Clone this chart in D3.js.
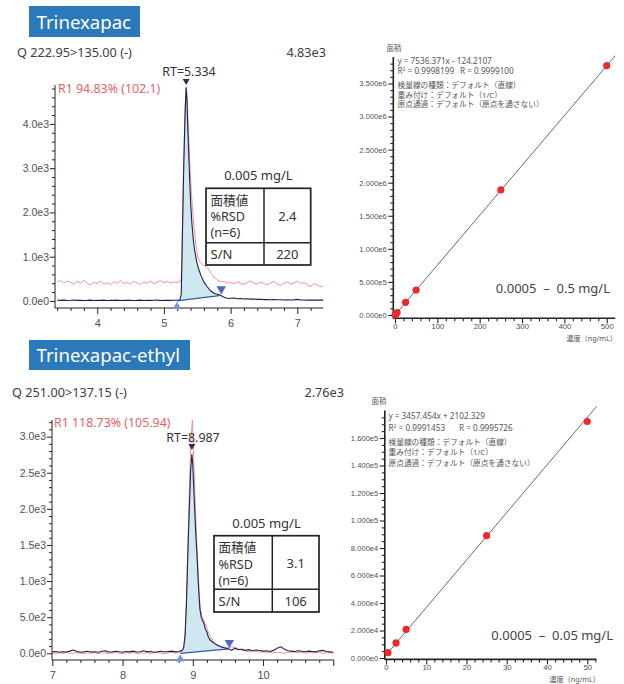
<!DOCTYPE html>
<html><head><meta charset="utf-8">
<script src="https://cdn.jsdelivr.net/npm/d3@7"></script>
<style>
html,body{margin:0;padding:0;background:#fff;}
svg{display:block;font-family:"Noto Sans","Noto Sans CJK JP",sans-serif;}
</style></head><body>
<svg id="chart" width="624" height="684"></svg>
<script>
// ---------- DATA ----------
const titles = ["Trinexapac", "Trinexapac-ethyl"];
const transitions = ["Q 222.95>135.00 (-)", "Q 251.00>137.15 (-)"];
const maxLabels = ["4.83e3", "2.76e3"];
const ratioLabels = ["R1 94.83% (102.1)", "R1 118.73% (105.94)"];
const rtValues = [5.334, 8.987];
const concLabels = ["0.005 mg/L", "0.005 mg/L"];
const rsdValues = ["2.4", "3.1"];
const snValues = ["220", "106"];

// chromatogram 1 (time [min], intensity)
const chrom1Black = [[3.40,15],[3.45,12],[3.50,18],[3.55,10],[3.60,14],[3.65,20],[3.70,12],[3.75,16],[3.80,11],[3.85,13],[3.90,18],[3.95,9],[4.00,14],[4.05,12],[4.10,17],[4.15,10],[4.20,15],[4.25,13],[4.30,19],[4.35,11],[4.40,14],[4.45,12],[4.50,16],[4.55,10],[4.60,13],[4.65,17],[4.70,11],[4.75,15],[4.80,12],[4.85,14],[4.90,18],[4.95,10],[5.00,13],[5.05,15],[5.10,12],[5.15,14],[5.20,16],[5.24,25],
 [5.26,150],[5.27,900],[5.28,1700],[5.29,2500],[5.30,3200],[5.31,3800],[5.32,4350],[5.334,4830],[5.345,4550],[5.355,4050],[5.37,3400],[5.385,2800],[5.40,2250],[5.42,1750],[5.44,1400],[5.46,1150],[5.49,900],[5.52,720],[5.56,560],[5.60,430],[5.65,320],[5.70,230],[5.75,175],[5.80,150],[5.85,130],[5.88,100],[5.92,70],[5.96,55],[6.00,60],
 [6.05,65],[6.10,50],[6.15,55],[6.20,45],[6.25,50],[6.30,40],[6.35,45],[6.40,35],[6.45,38],[6.50,30],[6.55,33],[6.60,28],[6.65,30],[6.70,25],[6.75,28],[6.80,22],[6.85,26],[6.90,20],[6.95,24],[7.00,35],[7.05,20],[7.10,22],[7.15,18],[7.20,20],[7.25,17],[7.30,22],[7.35,19],[7.39,18]];
const chrom1Red = [[3.40,430],[3.45,460],[3.50,400],[3.55,450],[3.60,420],[3.65,380],[3.70,440],[3.75,410],[3.80,470],[3.85,400],[3.90,360],[3.95,420],[4.00,390],[4.05,450],[4.10,380],[4.15,410],[4.20,370],[4.25,430],[4.30,400],[4.35,460],[4.40,390],[4.45,420],[4.50,380],[4.55,440],[4.60,410],[4.65,370],[4.70,430],[4.75,400],[4.80,450],[4.85,390],[4.90,420],[4.95,460],[5.00,410],[5.05,440],[5.10,400],[5.15,430],[5.20,410],[5.24,440],
 [5.26,500],[5.27,1000],[5.28,1800],[5.29,2600],[5.30,3300],[5.31,3900],[5.32,4400],[5.335,4800],[5.35,4550],[5.36,4150],[5.375,3600],[5.39,3050],[5.41,2500],[5.43,2050],[5.45,1700],[5.48,1250],[5.51,980],[5.55,860],[5.60,800],[5.65,760],[5.70,640],[5.75,540],[5.80,470],[5.85,430],[5.90,440],[5.95,400],[6.00,420],
 [6.05,390],[6.10,430],[6.15,400],[6.20,370],[6.25,420],[6.30,450],[6.35,400],[6.40,380],[6.45,430],[6.50,390],[6.55,360],[6.60,410],[6.65,440],[6.70,380],[6.75,350],[6.80,400],[6.85,430],[6.90,380],[6.95,410],[7.00,450],[7.05,390],[7.10,420],[7.15,370],[7.20,330],[7.25,390],[7.30,360],[7.35,320],[7.39,340]];
const chrom1Baseline = [[5.195,0],[5.86,125]];

// chromatogram 2
const chrom2Black = [[7.00,20],[7.05,25],[7.10,15],[7.15,22],[7.20,18],[7.25,30],[7.30,45],[7.35,25],[7.40,15],[7.45,20],[7.50,28],[7.55,18],[7.60,22],[7.65,15],[7.70,25],[7.75,35],[7.80,20],[7.85,18],[7.90,28],[7.95,22],[8.00,15],[8.05,25],[8.10,20],[8.15,30],[8.20,18],[8.25,22],[8.30,35],[8.35,20],[8.40,25],[8.45,15],[8.50,22],[8.55,28],[8.60,18],[8.65,25],[8.70,30],[8.75,20],[8.80,25],[8.85,40],
 [8.87,80],[8.89,250],[8.91,700],[8.93,1400],[8.95,2000],[8.97,2550],[8.987,2760],[9.00,2600],[9.02,2150],[9.04,1700],[9.06,1350],[9.08,950],[9.10,620],[9.12,500],[9.14,450],[9.16,410],[9.18,330],[9.20,300],[9.22,230],[9.25,180],[9.30,140],[9.35,110],[9.40,90],[9.45,75],[9.50,65],[9.55,40],[9.60,70],[9.65,50],
 [9.70,55],[9.75,40],[9.80,50],[9.85,35],[9.90,45],[9.95,38],[10.00,30],[10.05,35],[10.10,25],[10.15,40],[10.20,70],[10.25,90],[10.30,60],[10.35,35],[10.40,30],[10.45,25],[10.50,35],[10.55,28],[10.60,22],[10.65,30],[10.70,25],[10.75,20],[10.80,35],[10.85,40],[10.90,25],[10.95,20],[11.00,15]];
const chrom2Red = [[7.00,5],[7.05,-5],[7.10,8],[7.15,0],[7.20,10],[7.25,-3],[7.30,5],[7.35,12],[7.40,0],[7.45,-8],[7.50,6],[7.55,0],[7.60,10],[7.65,-5],[7.70,3],[7.75,8],[7.80,-2],[7.85,5],[7.90,12],[7.95,0],[8.00,-6],[8.05,8],[8.10,2],[8.15,10],[8.20,-4],[8.25,5],[8.30,0],[8.35,9],[8.40,-3],[8.45,6],[8.50,12],[8.55,2],[8.60,-5],[8.65,8],[8.70,15],[8.75,5],[8.80,10],[8.85,30],
 [8.87,70],[8.89,240],[8.91,720],[8.93,1500],[8.95,2200],[8.97,2900],[8.994,3230],[9.01,2800],[9.03,2200],[9.05,1700],[9.07,1250],[9.09,850],[9.11,600],[9.13,520],[9.15,470],[9.17,420],[9.19,380],[9.21,320],[9.24,250],[9.28,180],[9.33,130],[9.38,100],[9.43,85],[9.48,70],[9.55,90],[9.60,80],[9.65,60],
 [9.70,45],[9.75,30],[9.80,20],[9.85,35],[9.90,25],[9.95,15],[10.00,20],[10.05,10],[10.10,15],[10.15,5],[10.20,15],[10.25,10],[10.30,0],[10.35,10],[10.40,20],[10.45,15],[10.50,5],[10.55,10],[10.60,0],[10.65,8],[10.70,15],[10.75,5],[10.80,12],[10.85,0],[10.90,8],[10.95,5],[11.00,10]];
const chrom2Baseline = [[8.82,0],[9.52,60]];

// calibration curves
const cal1Conc = [0.5, 1, 2.5, 5, 25, 50, 250, 500];
const cal1Area = [3650, 7420, 18900, 37500, 192000, 378000, 1890000, 3770000];
const cal1Coef = [7536.371, -124.2107];
const cal1Text = ["y = 7536.371x - 124.2107", "0.9998199", "0.9999100"];
const cal2Conc = [0.5, 2.5, 5, 25, 50];
const cal2Area = [3900, 11000, 20800, 89000, 172000];
const cal2Coef = [3457.454, 2102.329];
const cal2Text = ["y = 3457.454x + 2102.329", "0.9991453", "0.9995726"];
const calNotes = ["検量線の種類：デフォルト（直線）", "重み付け：デフォルト（1/C）", "原点通過：デフォルト（原点を通さない）"];
const calRanges = ["0.0005\u00a0\u00a0–\u00a0\u00a00.5 mg/L", "0.0005\u00a0\u00a0–\u00a0\u00a00.05 mg/L"];
const calYLabel = "面積";
const calXLabel = "濃度（ng/mL）";

// ---------- DRAW ----------
const svg = d3.select("#chart");
const fmtE1 = v => d3.format(".1e")(v).replace("+", "");
const fmtE3 = v => d3.format(".3e")(v).replace("+", "");
const GRAY = "#505050";

function titleBox(x, y, w, h, label) {
  svg.append("rect").attr("x", x).attr("y", y).attr("width", w).attr("height", h).attr("fill", "#2b78bb");
  svg.append("text").attr("x", x + 7.5).attr("y", y + h - 8).attr("fill", "#fff")
    .attr("font-size", 18.6).text(label);
}

function tri(g, cx, cy, w, up, color) {
  const h = w * 0.85;
  const pts = up ? [[cx - w/2, cy + h/2], [cx + w/2, cy + h/2], [cx, cy - h/2]]
                 : [[cx - w/2, cy - h/2], [cx + w/2, cy - h/2], [cx, cy + h/2]];
  g.append("path").attr("d", "M" + pts.join("L") + "Z").attr("fill", color);
}

function chrom(o) {
  const g = svg.append("g");
  const x = d3.scaleLinear().domain(o.xDom).range(o.xRange);
  const y = d3.scaleLinear().domain(o.yDom).range(o.yRange);
  const b0 = o.base[0], b1 = o.base[1];
  const bl = t => b0[1] + (b1[1] - b0[1]) * (t - b0[0]) / (b1[0] - b0[0]);
  const fillPts = [b0].concat(o.black.filter(d => d[0] > b0[0] && d[0] < b1[0])).concat([b1]);
  g.append("path").datum(fillPts)
    .attr("d", d3.area().x(d => x(d[0])).y0(d => y(bl(d[0]))).y1(d => y(d[1])))
    .attr("fill", "#cfe7ef");
  const line = d3.line().x(d => x(d[0])).y(d => y(d[1]));
  g.append("path").datum(o.red).attr("d", line).attr("fill", "none").attr("stroke", "#f2868a").attr("stroke-width", 0.9);
  g.append("path").datum(o.black).attr("d", line).attr("fill", "none").attr("stroke", "#1e2050").attr("stroke-width", 1.1);
  g.append("line").attr("x1", x(b0[0])).attr("y1", y(b0[1])).attr("x2", x(b1[0])).attr("y2", y(b1[1]))
    .attr("stroke", "#2f5aa5").attr("stroke-width", 1.2);

  // axes
  const axX = o.yAxisX, axY = o.xAxisY;
  const yMaj = d3.range(0, o.yDom[1], o.yMajor);
  const yMin = d3.range(o.yMinor, o.yDom[1], o.yMinor).filter(v => Math.abs(v / o.yMajor - Math.round(v / o.yMajor)) > 1e-6);
  const gy = g.append("g").attr("transform", `translate(${axX},0)`);
  gy.call(d3.axisLeft(y).tickValues(yMaj).tickSize(5).tickSizeOuter(0).tickFormat(fmtE1));
  gy.append("g").call(d3.axisLeft(y).tickValues(yMin).tickSize(3).tickSizeOuter(0).tickFormat(""));
  gy.selectAll(".domain").remove();
  gy.selectAll("text").attr("font-size", 10.5).attr("fill", GRAY).attr("font-family", null).attr("x", -6);
  gy.selectAll("line").attr("stroke", "#222");
  g.append("line").attr("x1", axX).attr("x2", axX).attr("y1", o.yRange[1]).attr("y2", axY).attr("stroke", "#222");

  const xMaj = o.xMajorVals;
  const xMin = d3.range(o.xMinorStart, o.xDom[1] + 1e-9, o.xMinor).filter(v => Math.abs(v - Math.round(v)) > 1e-6);
  const gx = g.append("g").attr("transform", `translate(0,${axY})`);
  gx.call(d3.axisBottom(x).tickValues(xMaj).tickSize(6).tickSizeOuter(0).tickFormat(d => o.xLabeled.includes(d) ? d : ""));
  gx.append("g").call(d3.axisBottom(x).tickValues(xMin).tickSize(3).tickSizeOuter(0).tickFormat(""));
  gx.selectAll(".domain").remove();
  gx.selectAll("text").attr("font-size", 11).attr("fill", GRAY).attr("font-family", null).attr("y", 11);
  gx.selectAll("line").attr("stroke", "#222");
  g.append("line").attr("x1", axX).attr("x2", o.xRange[1]).attr("y1", axY).attr("y2", axY).attr("stroke", "#222").attr("stroke-width", 1.2);

  // markers
  tri(g, x(o.rt), o.apexY, 7, false, "#2a2f60");
  tri(g, x(b0[0]), y(b0[1]) + 4.5, 8.5, true, "#7f93d8");
  tri(g, x(b1[0]), y(b1[1]) - 5, 9.5, false, "#4b6cc2");

  // texts
  g.append("text").attr("x", o.hx).attr("y", o.hy).attr("font-size", 12.7).attr("fill", "#3c3c48").text(o.trans);
  g.append("text").attr("x", o.mx).attr("y", o.hy).attr("text-anchor", "end").attr("font-size", 12.7).attr("fill", "#3c3c48").text(o.max);
  g.append("text").attr("x", o.rx).attr("y", o.ry).attr("font-size", 12.4).attr("fill", "#e65f69").text(o.ratio);
  g.append("text").attr("x", o.rtx).attr("y", o.rty).attr("text-anchor", "middle").attr("font-size", 12.4).attr("fill", "#333").text("RT=" + d3.format(".3f")(o.rt));

  // table
  const t = o.table;
  g.append("text").attr("x", (t.x0 + t.x2) / 2).attr("y", t.y0 - 8).attr("text-anchor", "middle").attr("font-size", 13).attr("fill", "#333").text(o.conc);
  g.append("rect").attr("x", t.x0).attr("y", t.y0).attr("width", t.x2 - t.x0).attr("height", t.y2 - t.y0)
    .attr("fill", "#fff").attr("stroke", "#222").attr("stroke-width", 1.7);
  g.append("line").attr("x1", t.x1).attr("x2", t.x1).attr("y1", t.y0).attr("y2", t.y2).attr("stroke", "#222").attr("stroke-width", 1.5);
  g.append("line").attr("x1", t.x0).attr("x2", t.x2).attr("y1", t.y1).attr("y2", t.y1).attr("stroke", "#222").attr("stroke-width", 1.5);
  const lx = t.x0 + 4.5;
  const rows = ["面積値", "%RSD", "(n=6)"];
  rows.forEach((r, i) => g.append("text").attr("x", lx).attr("y", t.y0 + 16.5 + i * 16.3).attr("font-size", 12.6).attr("fill", "#333").text(r));
  const cx = (t.x1 + t.x2) / 2;
  g.append("text").attr("x", cx).attr("y", (t.y0 + t.y1) / 2 + 5).attr("text-anchor", "middle").attr("font-size", 13).attr("fill", "#333").text(o.rsd);
  g.append("text").attr("x", lx).attr("y", (t.y1 + t.y2) / 2 + 5).attr("font-size", 13).attr("fill", "#333").text("S/N");
  g.append("text").attr("x", cx).attr("y", (t.y1 + t.y2) / 2 + 5).attr("text-anchor", "middle").attr("font-size", 13).attr("fill", "#333").text(o.sn);
}

function calib(o) {
  const g = svg.append("g");
  const x = d3.scaleLinear().domain(o.xDom).range(o.xRange);
  const y = d3.scaleLinear().domain(o.yDom).range(o.yRange);
  const x0 = o.xRange[0], y0 = o.yRange[0];
  // axes
  const yMaj = d3.range(0, o.yDom[1], o.yMajor);
  const yMin = d3.range(o.yMinor, o.yDom[1], o.yMinor).filter(v => Math.abs(v / o.yMajor - Math.round(v / o.yMajor)) > 1e-6);
  const gy = g.append("g").attr("transform", `translate(${x0},0)`);
  gy.call(d3.axisLeft(y).tickValues(yMaj).tickSize(5).tickSizeOuter(0).tickFormat(fmtE3));
  gy.append("g").call(d3.axisLeft(y).tickValues(yMin).tickSize(3).tickSizeOuter(0).tickFormat(""));
  gy.selectAll(".domain").remove();
  gy.selectAll("text").attr("font-size", 7.6).attr("fill", GRAY).attr("font-family", null).attr("x", -6.5);
  gy.selectAll("line").attr("stroke", "#222").attr("stroke-width", 1.1);
  g.append("line").attr("x1", x0).attr("x2", x0).attr("y1", o.yRange[1]).attr("y2", y0).attr("stroke", "#222").attr("stroke-width", 1.6);

  const xMaj = d3.range(0, o.xDom[1], o.xMajor);
  const xMin = d3.range(o.xMinor, o.xDom[1], o.xMinor).filter(v => Math.abs(v / o.xMajor - Math.round(v / o.xMajor)) > 1e-6);
  const gx = g.append("g").attr("transform", `translate(0,${y0})`);
  gx.call(d3.axisBottom(x).tickValues(xMaj).tickSize(5).tickSizeOuter(0));
  gx.append("g").call(d3.axisBottom(x).tickValues(xMin).tickSize(3).tickSizeOuter(0).tickFormat(""));
  gx.selectAll(".domain").remove();
  gx.selectAll("text").attr("font-size", 7.8).attr("fill", GRAY).attr("font-family", null).attr("y", 5);
  gx.selectAll("line").attr("stroke", "#222").attr("stroke-width", 1.1);
  g.append("line").attr("x1", x0).attr("x2", o.xRange[1]).attr("y1", y0).attr("y2", y0).attr("stroke", "#222").attr("stroke-width", 1.6);

  // regression line
  const f = c => o.coef[0] * c + o.coef[1];
  g.append("line").attr("x1", x(0)).attr("y1", y(f(0))).attr("x2", x(o.lineEnd)).attr("y2", y(f(o.lineEnd)))
    .attr("stroke", "#444").attr("stroke-width", 0.8);
  // points
  g.selectAll("circle.pt").data(o.conc.map((c, i) => [c, o.area[i]])).enter().append("circle")
    .attr("cx", d => x(d[0])).attr("cy", d => y(d[1])).attr("r", 3.6).attr("fill", "#ea2a2e");

  // texts
  const fs = 7.7, fsl = 8.2, col = "#555";
  g.append("text").attr("x", o.ylx).attr("y", o.yly).attr("font-size", 7.5).attr("fill", col).text(calYLabel);
  g.append("text").attr("x", o.tx).attr("y", o.ty[0]).attr("font-size", fsl).attr("fill", col).text(o.text[0]);
  const r2 = g.append("text").attr("x", o.tx).attr("y", o.ty[1]).attr("font-size", fsl).attr("fill", col);
  r2.append("tspan").text("R");
  r2.append("tspan").attr("dy", -3).attr("font-size", 5).text("2");
  r2.append("tspan").attr("dy", 3).text(" = " + o.text[1]);
  g.append("text").attr("x", o.rx).attr("y", o.ty[1]).attr("font-size", fsl).attr("fill", col).text("R = " + o.text[2]);
  calNotes.forEach((s, i) => g.append("text").attr("x", o.tx).attr("y", o.ty[2 + i]).attr("font-size", fs).attr("fill", col).text(s));
  g.append("text").attr("x", o.rangeX).attr("y", o.rangeY).attr("text-anchor", "end").attr("font-size", 13).attr("fill", "#444").text(o.range);
  g.append("text").attr("x", o.xlx).attr("y", o.xly).attr("text-anchor", "end").attr("font-size", 7.2).attr("fill", col).text(calXLabel);
}

titleBox(29, 6, 111, 31, titles[0]);
titleBox(29, 340, 161, 30, titles[1]);

chrom({
  black: chrom1Black, red: chrom1Red, base: chrom1Baseline, rt: rtValues[0],
  xDom: [3.4, 7.39], xRange: [57.2, 323.3], yDom: [-160, 4880], yRange: [308, 85],
  yAxisX: 55, xAxisY: 308, yMajor: 1000, yMinor: 200,
  xMajorVals: [4, 5, 6, 7], xLabeled: [4, 5, 6, 7], xMinorStart: 3.4, xMinor: 0.2,
  apexY: 82, trans: transitions[0], max: maxLabels[0], ratio: ratioLabels[0],
  hx: 17, hy: 57, mx: 326, rx: 58, ry: 92.5, rtx: 189, rty: 76,
  conc: concLabels[0], rsd: rsdValues[0], sn: snValues[0],
  table: { x0: 206, x1: 264, x2: 310.7, y0: 188.3, y1: 242.7, y2: 265 }
});
chrom({
  black: chrom2Black, red: chrom2Red, base: chrom2Baseline, rt: rtValues[1],
  xDom: [7, 11.01], xRange: [52.3, 334], yDom: [-93, 3230], yRange: [660, 420],
  yAxisX: 52, xAxisY: 660, yMajor: 500, yMinor: 100,
  xMajorVals: [7, 8, 9, 10, 11], xLabeled: [7, 8, 9, 10], xMinorStart: 7, xMinor: 0.2,
  apexY: 447, trans: transitions[1], max: maxLabels[1], ratio: ratioLabels[1],
  hx: 12, hy: 396.5, mx: 344, rx: 54, ry: 427, rtx: 193, rty: 441.5,
  conc: concLabels[1], rsd: rsdValues[1], sn: snValues[1],
  table: { x0: 214, x1: 272.3, x2: 319, y0: 535.7, y1: 589.3, y2: 612 }
});

calib({
  conc: cal1Conc, area: cal1Area, coef: cal1Coef, text: cal1Text, range: calRanges[0],
  xDom: [-4, 520], xRange: [393.3, 615.2], yDom: [-5e4, 3.9e6], yRange: [318.3, 57],
  xMajor: 100, xMinor: 20, yMajor: 5e5, yMinor: 1e5, lineEnd: 520,
  ylx: 386.5, yly: 50.5, tx: 397.5, ty: [64, 73.8, 87.5, 98, 106.5], rx: 460,
  rangeX: 610, rangeY: 293, xlx: 617, xly: 340.5
});
calib({
  conc: cal2Conc, area: cal2Area, coef: cal2Coef, text: cal2Text, range: calRanges[1],
  xDom: [-0.3, 52.3], xRange: [384.8, 596.5], yDom: [-1000, 1.8e5], yRange: [659.4, 410.5],
  xMajor: 10, xMinor: 2, yMajor: 2e4, yMinor: 5e3, lineEnd: 52.3,
  ylx: 371.5, yly: 404, tx: 388.5, ty: [418.5, 431, 444.5, 455, 465.5], rx: 459,
  rangeX: 613, rangeY: 640, xlx: 600, xly: 682
});
</script>
</body></html>
